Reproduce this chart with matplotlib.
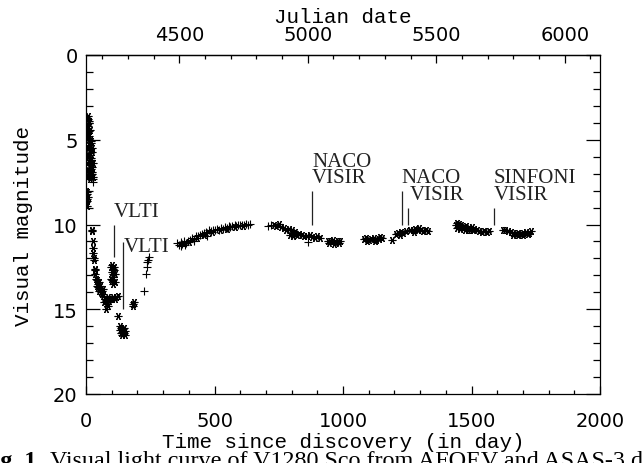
import numpy as np
import matplotlib
matplotlib.use("Agg")
import matplotlib.pyplot as plt

# Light curve: days since discovery vs visual magnitude
# "*" symbols
star_day = [1, 3, 5, 2, 4, 6, 3, 1,
            3, 6, 9, 12, 4, 8, 11, 15, 5, 10, 14, 18, 3, 7, 13, 17, 20, 6, 9, 16, 21,
            24, 4, 11, 15, 19, 23, 8, 12, 18, 22, 26, 5, 10, 14, 20, 25, 28, 7, 13, 17, 24,
            22, 24, 28, 28, 29, 30, 31, 34, 36, 35,
            40, 44, 48, 52, 46, 50, 55, 58, 62, 42, 60, 65,
            64, 68, 72, 76, 70, 80, 78, 84, 88, 92, 86,
            100, 106, 112, 118, 124,
            98, 102, 106, 110, 100, 104, 108, 112, 99, 103, 107, 111, 105,
            126, 132, 136, 140, 144, 148, 152, 138, 146, 150, 142, 134,
            182, 184, 186,
            400, 430, 460, 490, 520, 550, 580, 610,
            730, 740, 750, 760, 770, 780, 790, 800, 810, 795, 805, 815, 820, 830, 840,
            850, 860, 870, 880, 890, 900, 910, 940, 950, 960, 970, 980, 990, 945, 965, 985,
            1080, 1090, 1100, 1110, 1120, 1130, 1140, 1150, 1095, 1125, 1145,
            1190, 1205, 1215, 1225, 1235, 1245, 1220,
            1262, 1272, 1282, 1292, 1302, 1312, 1322, 1332, 1277, 1297,
            1440, 1450, 1460, 1470, 1480, 1490, 1500, 1510, 1445, 1455, 1465, 1475,
            1485, 1495, 1505, 1520, 1530, 1540, 1550, 1560, 1570, 1442, 1452,
            1622, 1632, 1642, 1652, 1662, 1672, 1682, 1692, 1702, 1712, 1722, 1732,
            1660, 1680, 1700, 1720]
star_mag = [8.0, 8.2, 8.1, 8.5, 8.6, 8.4, 8.9, 8.7,
            3.7, 3.6, 3.8, 4.0, 4.3, 4.2, 4.5, 4.4, 4.9, 4.8, 5.0, 5.1, 5.4, 5.5, 5.3, 5.6, 5.2, 5.9, 6.0, 5.8, 6.1,
            5.7, 6.4, 6.3, 6.5, 6.2, 6.6, 6.8, 6.9, 6.7, 7.0, 6.4, 7.2, 7.1, 7.3, 7.0, 6.9, 7.2, 4.6, 3.9, 6.2, 5.5,
            10.3, 10.4, 10.95, 11.4, 11.7, 12.0, 12.1, 12.6, 12.9, 12.7,
            13.2, 13.3, 13.5, 13.4, 13.7, 13.9, 13.6, 13.8, 13.9, 13.6, 14.0, 13.8,
            14.1, 14.2, 14.4, 14.5, 14.6, 14.7, 15.0, 14.8, 14.5, 14.4, 14.3,
            14.4, 14.3, 14.4, 14.3, 14.2,
            12.5, 12.4, 12.6, 12.5, 12.8, 12.9, 12.7, 12.9, 13.2, 13.3, 13.1, 13.4, 13.5,
            15.4, 16.0, 16.1, 16.2, 16.3, 16.4, 16.5, 16.4, 16.1, 16.3, 16.5, 16.2,
            14.8, 14.7, 14.6,
            11.05, 10.8, 10.6, 10.45, 10.35, 10.25, 10.15, 10.1,
            10.0, 10.1, 9.95, 10.15, 10.2, 10.3, 10.25, 10.35, 10.5, 10.6, 10.7, 10.45, 10.6, 10.55, 10.6,
            10.65, 10.7, 10.6, 10.75, 10.8, 10.7, 10.8, 10.95, 11.0, 10.9, 11.05, 11.0, 10.95, 11.1, 11.15, 11.1,
            10.85, 10.8, 10.9, 10.85, 10.8, 10.9, 10.85, 10.8, 10.95, 10.95, 10.75,
            10.9, 10.55, 10.5, 10.45, 10.5, 10.4, 10.6,
            10.35, 10.3, 10.25, 10.35, 10.3, 10.4, 10.35, 10.4, 10.45, 10.2,
            10.0, 10.1, 10.0, 10.15, 10.1, 10.2, 10.15, 10.25, 10.2, 10.25, 10.2, 10.3,
            10.3, 10.3, 10.35, 10.35, 10.4, 10.45, 10.4, 10.45, 10.4, 9.9, 9.95,
            10.3, 10.35, 10.4, 10.45, 10.5, 10.55, 10.5, 10.55, 10.5, 10.45, 10.5, 10.4,
            10.6, 10.6, 10.6, 10.55]

# "+" symbols
plus_day = [28, 26,
            226, 233, 236, 239, 242, 245,
            355, 362, 368, 375, 382, 390, 398, 405, 412, 420, 428, 435, 442, 450, 458,
            465, 472, 480, 488, 495, 502, 510, 518, 525, 532, 540, 548, 555, 562, 570,
            578, 585, 592, 600, 608, 615, 622, 630, 637, 370, 385, 420, 470,
            708, 720, 864]
plus_mag = [7.5, 7.3,
            13.9, 12.9, 12.5, 12.2, 12.1, 11.9,
            11.1, 11.2, 11.05, 11.15, 11.0, 11.1, 10.95, 10.9, 10.8, 10.85, 10.7, 10.65, 10.6, 10.55, 10.5,
            10.45, 10.5, 10.35, 10.4, 10.3, 10.35, 10.25, 10.3, 10.2, 10.25, 10.15, 10.2, 10.1, 10.15, 10.1,
            10.05, 10.1, 10.0, 10.05, 10.0, 10.05, 9.95, 10.0, 9.95, 11.25, 11.2, 11.0, 10.65,
            10.1, 10.0, 11.05]

# Observation markers: vertical tick (day, top mag, bottom mag)
obs_day = [109, 143, 879, 1230, 1253, 1588]
obs_top = [10.0, 11.05, 8.0, 8.0, 9.0, 9.0]
obs_bot = [11.9, 15.0, 10.0, 10.0, 10.0, 10.0]

# Labels: (day, baseline mag, text)
lab_day = [109, 148, 879, 879, 1229, 1261, 1588, 1588]
lab_mag = [9.5, 11.55, 6.55, 7.5, 7.5, 8.5, 7.5, 8.5]
lab_txt = ["VLTI", "VLTI", "NACO", "VISIR", "NACO", "VISIR", "SINFONI", "VISIR"]

JD_OFFSET = 4137  # JD - 2450000 at discovery

fig = plt.figure(figsize=(6.43, 4.64), dpi=100)
ax = fig.add_axes([86 / 643, 1 - 395 / 464, 514 / 643, 339 / 464])

ax.plot(star_day, star_mag, linestyle="none", marker=(6, 2, 90), ms=5.5,
        mew=0.8, color="black")
ax.plot(plus_day, plus_mag, linestyle="none", marker="+", ms=5.5,
        mew=0.8, color="black")

ax.vlines(obs_day, obs_top, obs_bot, color="#222222", linewidth=0.9)
for d, m, t in zip(lab_day, lab_mag, lab_txt):
    ax.text(d, m, t, ha="left", va="baseline", fontsize=15,
            family="Liberation Serif", color="#222222")

ax.set_xlim(0, 2000)
ax.set_ylim(20, 0)
ax.set_xticks(np.arange(0, 2001, 500))
ax.set_xticks(np.arange(0, 2001, 100), minor=True)
ax.set_yticks(np.arange(0, 21, 5))
ax.set_yticks(np.arange(0, 21, 1), minor=True)

tick_font = {"family": "DejaVu Sans", "size": 14}
ax.tick_params(which="both", direction="in", top=False, right=True, width=0.9)
ax.tick_params(axis="y", which="major", length=10, pad=6)
ax.tick_params(axis="y", which="minor", length=5)
ax.tick_params(axis="x", which="major", length=6, pad=12)
ax.tick_params(axis="x", which="minor", length=3)
for lbl in ax.get_xticklabels() + ax.get_yticklabels():
    lbl.set_fontfamily(tick_font["family"])
    lbl.set_fontsize(tick_font["size"])
for s in ax.spines.values():
    s.set_linewidth(0.9)

top = ax.secondary_xaxis("top", functions=(lambda d: d + JD_OFFSET,
                                            lambda j: j - JD_OFFSET))
top.set_xticks(np.arange(4500, 6001, 500))
top.set_xticks(np.arange(4200, 6101, 100), minor=True)
top.tick_params(which="both", direction="in", width=0.9, pad=8)
top.tick_params(which="major", length=6)
top.tick_params(which="minor", length=3)
for lbl in top.get_xticklabels():
    lbl.set_fontfamily(tick_font["family"])
    lbl.set_fontsize(tick_font["size"])
top.spines["top"].set_linewidth(0.9)
top.set_xlabel("Julian date", fontsize=15, family="Liberation Mono", labelpad=2)

ax.set_xlabel("Time since discovery (in day)", fontsize=15,
              family="Liberation Mono", labelpad=1.5)
ax.set_ylabel("Visual magnitude", fontsize=15, family="Liberation Mono")
ax.yaxis.set_label_coords(-0.103, 0.5)

# Caption cut off at the bottom edge of the image
fig.text(42 / 643, -0.007, "Fig. 1.", ha="right", va="baseline", fontsize=17.4,
         family="Liberation Serif", fontweight="bold")
fig.text(50 / 643, -0.007, "Visual light curve of V1280 Sco from AFOEV and ASAS-3 data",
         ha="left", va="baseline", fontsize=17.4, family="Liberation Serif")

fig.savefig("out.png", dpi=100)
